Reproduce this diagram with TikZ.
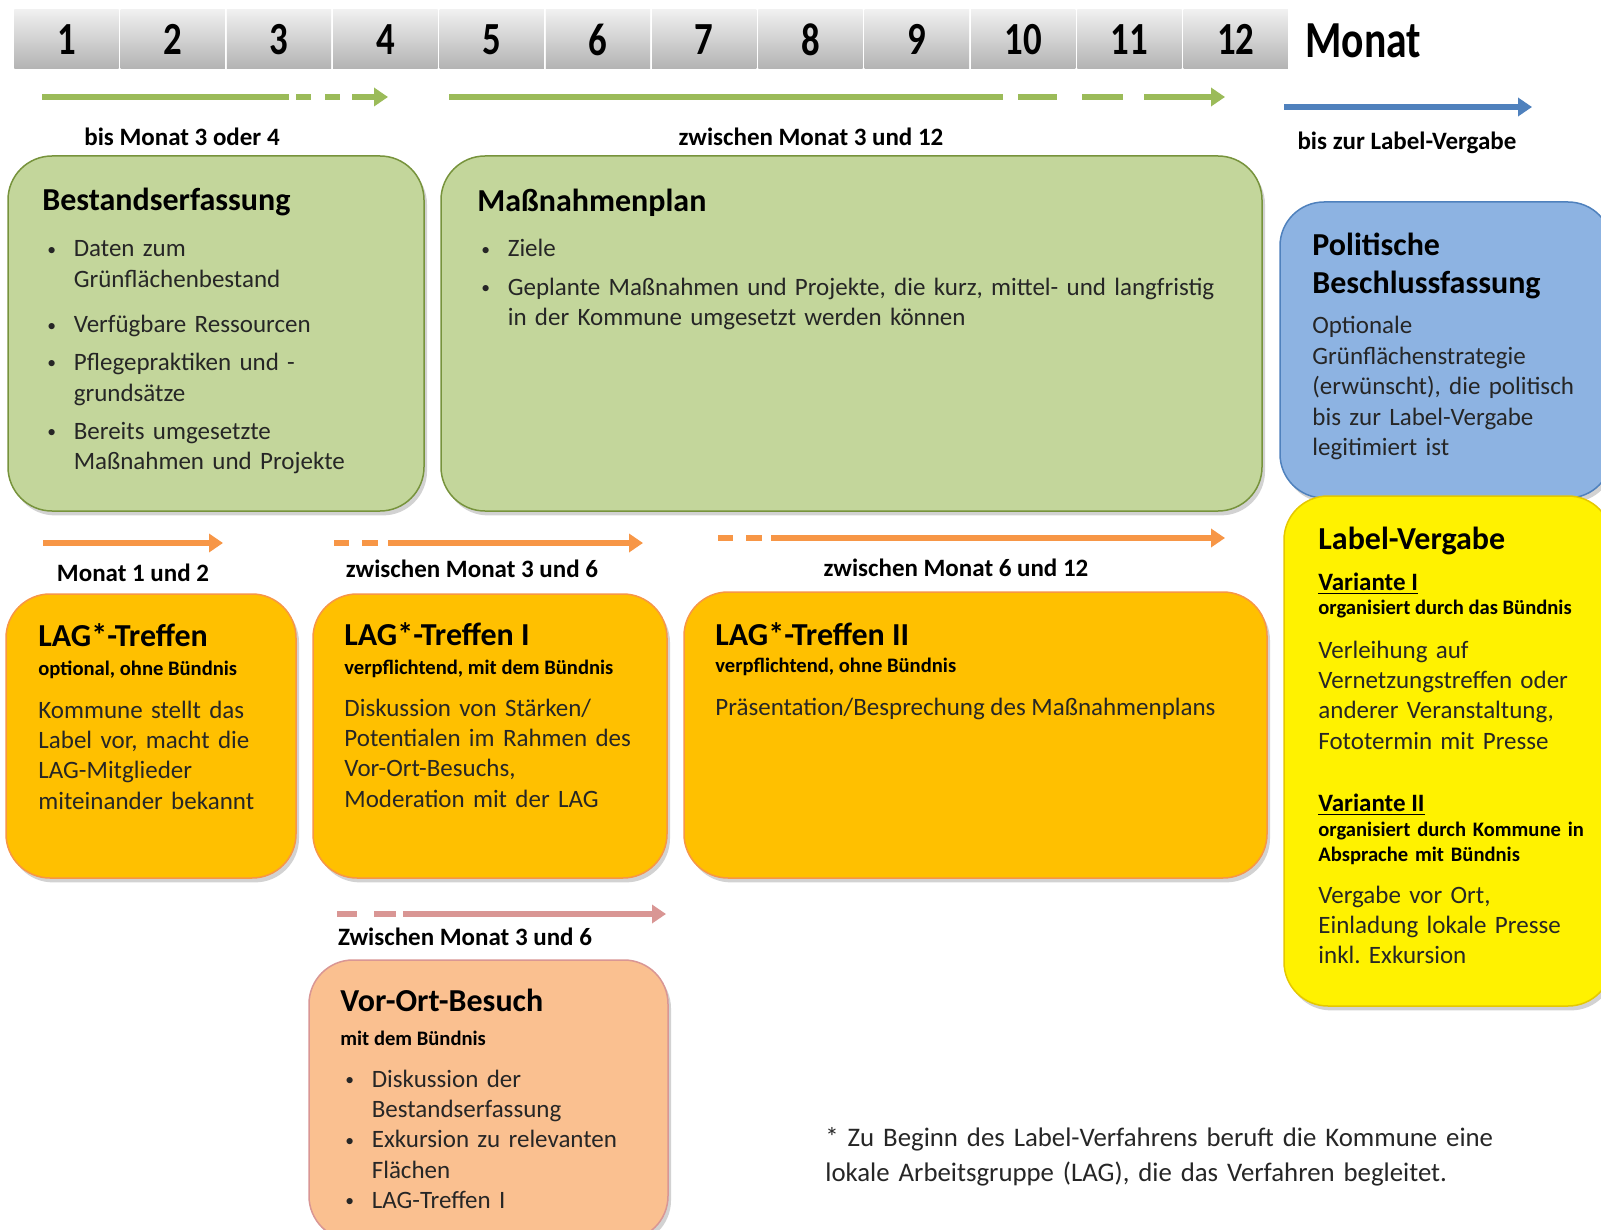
\documentclass[tikz,border=0pt]{standalone}
\usepackage{fontspec}
\setmainfont{Carlito}
\newfontfamily\zahlenfont[FakeStretch=0.8]{Carlito}
\usetikzlibrary{arrows.meta,shadows}
\frenchspacing

\definecolor{gruenfill}{HTML}{C3D69B}
\definecolor{gruenrand}{HTML}{77933C}
\definecolor{gruenpfeil}{HTML}{9BBB59}
\definecolor{blaufill}{HTML}{8DB3E2}
\definecolor{blaurand}{HTML}{4F81BD}
\definecolor{gelbrand}{HTML}{E5C800}
\definecolor{orangefill}{HTML}{FFC000}
\definecolor{orangerand}{HTML}{F79646}
\definecolor{rosafill}{HTML}{FAC090}
\definecolor{rosarand}{HTML}{D99694}

% Aufzaehlungspunkt mit haengendem Einzug
\newcommand{\punkt}[1]{\noindent\makebox[13.2pt][l]{\raisebox{0.9pt}{\scalebox{0.7}{\textbullet}}}\parbox[t]{\dimexpr\linewidth-13.2pt}{#1\strut}\par\prevdepth=\dp\strutbox}

\begin{document}
\begin{tikzpicture}[x=0.5pt, y=-0.5pt,
			kasten/.style={draw, rounded corners=22pt, line width=0.75pt, inner sep=0pt,
				drop shadow={opacity=0.35, shadow xshift=1.5pt, shadow yshift=-2.2pt}},
			monatsfeld/.style={rectangle, minimum width=52.15pt, minimum height=29.5pt, inner sep=0pt,
				top color=gray!12, bottom color=gray!60, font=\zahlenfont\bfseries\fontsize{23}{26}\selectfont},
			titel/.style={anchor=base west, inner sep=0pt, font=\bfseries\fontsize{16}{19}\selectfont},
			untertitel/.style={anchor=base west, inner sep=0pt, font=\bfseries\fontsize{10.3}{12.5}\selectfont},
			inhalt/.style={anchor=base west, inner sep=0pt, text=black!85, font=\fontsize{12.5}{15.2}\selectfont},
			zeit/.style={inner sep=0pt, font=\bfseries\fontsize{12.5}{15}\selectfont},
			strich/.style={line width=3.2pt},
			pfeil/.style={line width=3.2pt, -{Triangle[length=7pt,width=9pt]}}]
			
			\useasboundingbox[fill=white] (0,0) rectangle (1601,1230);
			
			% Monatsleiste
			\foreach \m in {1,...,12}
				\node[monatsfeld] (m\m) at ({66.45+106.3*(\m-1)}, 39.5) {\m};
			\node[anchor=west, inner sep=0pt, font=\zahlenfont\bfseries\fontsize{26}{30}\selectfont] (monat) at (1305,41) {Monat};
			
			% Zeitpfeile der ersten Reihe
			\draw[strich, gruenpfeil] (42,97) -- (289,97) (296,97) -- (311,97) (325,97) -- (340,97);
			\draw[pfeil, gruenpfeil] (352,97) -- (388,97);
			\draw[strich, gruenpfeil] (449,97) -- (1003,97) (1018,97) -- (1057,97) (1082,97) -- (1123,97);
			\draw[pfeil, gruenpfeil] (1144,97) -- (1225,97);
			\draw[pfeil, blaurand] (1284,107) -- (1532,107);
			
			\node[zeit] (z1) at (182,137) {bis Monat 3 oder 4};
			\node[zeit] (z2) at (811,137) {zwischen Monat 3 und 12};
			\node[zeit] (z3) at (1407,143) {bis zur Label-Vergabe};
			
			% Kaesten der ersten Reihe
			\node[kasten, fill=gruenfill, draw=gruenrand, minimum width=208pt, minimum height=177.5pt] (best) at (216,333.5) {};
			\node[kasten, fill=gruenfill, draw=gruenrand, minimum width=410.5pt, minimum height=177.5pt] (plan) at (851.5,333.5) {};
			\node[kasten, fill=blaufill, draw=blaurand, minimum width=166pt, minimum height=148pt] (pol) at (1446,350) {};
			\node[kasten, fill=yellow, draw=gelbrand, minimum width=164pt, minimum height=255pt] (lab) at (1448,751) {};
			
			\node[titel] (bestT) at (42,211) {Bestandserfassung};
			\node[inhalt, text width=170pt] (bestL) at (47,257) {\punkt{Daten zum\\Grünflächenbestand}\vspace{7.5pt}\punkt{Verfügbare Ressourcen}\vspace{3.8pt}\punkt{Pflegepraktiken und -\\grundsätze}\vspace{3.8pt}\punkt{Bereits umgesetzte\\Maßnahmen und Projekte}};
			
			\node[titel] (planT) at (477,212) {Maßnahmenplan};
			\node[inhalt, text width=390pt] (planL) at (481,257) {\punkt{Ziele}\vspace{4pt}\punkt{Geplante Maßnahmen und Projekte, die kurz, mittel- und langfristig\\in der Kommune umgesetzt werden können}};
			
			\node[titel, text width=150pt] (polT) at (1312,256) {Politische\\Beschlussfassung};
			\node[inhalt, text width=150pt] (polL) at (1312,334) {Optionale\\Grünflächenstrategie\\(erwünscht), die politisch\\bis zur Label-Vergabe\\legitimiert ist};
			
			\node[titel] (labT) at (1318,549) {Label-Vergabe};
			\node[inhalt, text=black, font=\bfseries\fontsize{12.5}{15}\selectfont] (v1) at (1318,590) {\underline{Variante I}};
			\node[untertitel] (v1U) at (1318,614) {organisiert durch das Bündnis};
			\node[inhalt, text width=150pt] (v1L) at (1318,658) {Verleihung auf\\Vernetzungstreffen oder\\anderer Veranstaltung,\\Fototermin mit Presse};
			\node[inhalt, text=black, font=\bfseries\fontsize{12.5}{15}\selectfont] (v2) at (1318,811) {\underline{Variante II}};
			\node[untertitel, text width=150pt] (v2U) at (1318,836) {organisiert durch Kommune in\\Absprache mit Bündnis};
			\node[inhalt, text width=150pt] (v2L) at (1318,903) {Vergabe vor Ort,\\Einladung lokale Presse\\inkl. Exkursion};
			
			% Zeitpfeile der zweiten Reihe
			\draw[pfeil, orangerand] (43,543) -- (223,543);
			\draw[strich, orangerand] (334,543) -- (349,543) (362,543) -- (378,543);
			\draw[pfeil, orangerand] (388,543) -- (643,543);
			\draw[strich, orangerand] (718,538) -- (733,538) (746,538) -- (762,538);
			\draw[pfeil, orangerand] (771,538) -- (1225,538);
			
			\node[zeit] (z4) at (133,573) {Monat 1 und 2};
			\node[zeit] (z5) at (472,569) {zwischen Monat 3 und 6};
			\node[zeit] (z6) at (956,568) {zwischen Monat 6 und 12};
			
			% Kaesten der zweiten Reihe
			\node[kasten, fill=orangefill, draw=orangerand, minimum width=145pt, minimum height=142pt] (lag0) at (151,736) {};
			\node[kasten, fill=orangefill, draw=orangerand, minimum width=177pt, minimum height=142pt] (lag1) at (490,736) {};
			\node[kasten, fill=orangefill, draw=orangerand, minimum width=291.5pt, minimum height=143pt] (lag2) at (975.5,735) {};
			
			\node[titel] (lag0T) at (38,646) {LAG*-Treffen};
			\node[untertitel] (lag0U) at (38,675) {optional, ohne Bündnis};
			\node[inhalt, text width=125pt] (lag0L) at (38,718) {Kommune stellt das\\Label vor, macht die\\LAG-Mitglieder\\miteinander bekannt};
			
			\node[titel] (lag1T) at (344,645) {LAG*-Treffen I};
			\node[untertitel] (lag1U) at (344,674) {verpflichtend, mit dem Bündnis};
			\node[inhalt, text width=155pt] (lag1L) at (344,716) {Diskussion von Stärken/\\Potentialen im Rahmen des\\Vor-Ort-Besuchs,\\Moderation mit der LAG};
			
			\node[titel] (lag2T) at (715,645) {LAG*-Treffen II};
			\node[untertitel] (lag2U) at (715,672) {verpflichtend, ohne Bündnis};
			\node[inhalt] (lag2L) at (715,715) {Präsentation/Besprechung des Maßnahmenplans};
			
			% Dritte Reihe
			\draw[strich, rosarand] (337,914) -- (357,914) (374,914) -- (396,914);
			\draw[pfeil, rosarand] (403,914) -- (666,914);
			\node[zeit] (z7) at (465,937) {Zwischen Monat 3 und 6};
			
			\node[kasten, fill=rosafill, draw=rosarand, minimum width=179.5pt, minimum height=140pt] (bes) at (488.5,1100) {};
			\node[titel] (besT) at (340,1011) {Vor-Ort-Besuch};
			\node[untertitel] (besU) at (340,1045) {mit dem Bündnis};
			\node[inhalt, text width=160pt] (besL) at (345,1087) {\punkt{Diskussion der\\Bestandserfassung}\punkt{Exkursion zu relevanten\\Flächen}\punkt{LAG-Treffen I}};
			
			\node[inhalt, text width=360pt, font=\fontsize{13.4}{17.5}\selectfont] (fussnote) at (825,1146) {* Zu Beginn des Label-Verfahrens beruft die Kommune eine\\lokale Arbeitsgruppe (LAG), die das Verfahren begleitet.};
		\end{tikzpicture}
\end{document}
